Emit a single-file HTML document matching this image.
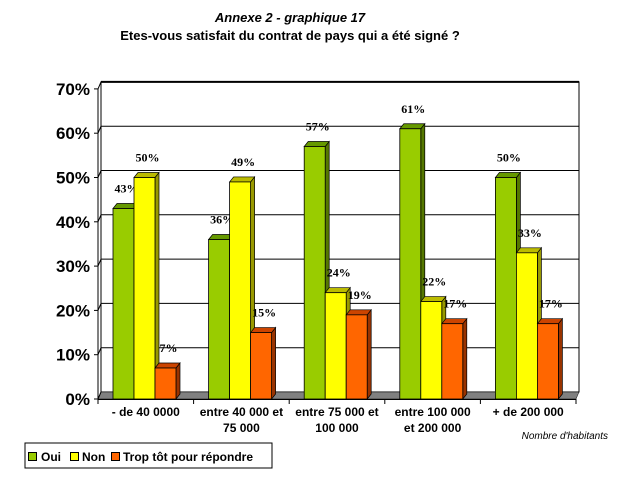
<!DOCTYPE html>
<html><head><meta charset="utf-8"><style>
body{margin:0;background:#fff;}
svg{display:block;font-family:"Liberation Sans",Arial,sans-serif;}
</style></head><body>
<svg id="chart" width="626" height="482" viewBox="0 0 626 482" xmlns="http://www.w3.org/2000/svg">
<text x="290" y="22" font-size="13" font-style="italic" font-weight="bold" text-anchor="middle">Annexe 2 - graphique 17</text>
<text x="290" y="40" font-size="13" font-weight="bold" text-anchor="middle">Etes-vous satisfait du contrat de pays qui a été signé ?</text>
<g id="grid"></g>
<g id="bars"></g>
<g id="axis"></g>
<text x="608" y="439" font-size="10" font-style="italic" text-anchor="end">Nombre d'habitants</text>
<g>
<rect x="25" y="443" width="247" height="25" fill="#fff" stroke="#000" stroke-width="1"/>
<rect x="28.5" y="452.5" width="8" height="8" fill="#99cc00" stroke="#000"/>
<text x="41" y="461" font-size="12" font-weight="bold">Oui</text>
<rect x="70.5" y="452.5" width="8" height="8" fill="#ffff00" stroke="#000"/>
<text x="82" y="461" font-size="12" font-weight="bold">Non</text>
<rect x="111.5" y="452.5" width="8" height="8" fill="#ff6600" stroke="#000"/>
<text x="123" y="461" font-size="12" font-weight="bold">Trop tôt pour répondre</text>
</g>
</svg>
<script>
const categories = [["- de 40 0000"],["entre 40 000 et","75 000"],["entre 75 000 et","100 000"],["entre 100 000","et 200 000"],["+ de 200 000"]];
const oui = [43,36,57,61,50];
const non = [50,49,24,22,33];
const tropTot = [7,15,19,17,17];
const yTicks = [0,10,20,30,40,50,60,70];
const NS="http://www.w3.org/2000/svg";
const svg=document.getElementById('chart');
const gGrid=document.getElementById('grid'),gBars=document.getElementById('bars'),gAxis=document.getElementById('axis');
const x0=98,x1=576,y0=399,k=4.43,dx=3,dy=-7;
const step=(x1-x0)/categories.length;
function yv(v){return y0-v*k;}
function mk(tag,attrs,parent){const e=document.createElementNS(NS,tag);for(const a in attrs)e.setAttribute(a,attrs[a]);parent.appendChild(e);return e;}
let wall=mk('rect',{x:x0+dx,y:yv(70)+dy,width:x1-x0,height:70*k,fill:'#fff',stroke:'#000','stroke-width':1},gGrid);


let floor=mk('polygon',{points:`${x0},${y0} ${x0+dx},${y0+dy} ${x1+dx},${y0+dy} ${x1},${y0}`,fill:'#808080',stroke:'#000','stroke-width':0.5},gGrid);


yTicks.forEach(t=>{
  const y=yv(t);
  mk('line',{x1:x0,y1:y,x2:x0+dx,y2:y+dy,stroke:'#000'},gGrid);
  if(t>0){const g=mk('line',{x1:x0+dx,y1:y+dy,x2:x1+dx,y2:y+dy,stroke:'#000','stroke-width':t==70?2:1},gGrid);
  
  }
  mk('line',{x1:x0-4,y1:y,x2:x0,y2:y,stroke:'#000'},gAxis);
  const tx=mk('text',{x:x0-8,y:y+6,'font-size':17,'font-weight':'bold','text-anchor':'end'},gAxis);
  tx.textContent=t+'%';
  
  
});
const al=mk('line',{x1:x0,y1:yv(70),x2:x0,y2:y0,stroke:'#000'},gAxis);


const ax=mk('line',{x1:x0,y1:y0+0.5,x2:x1,y2:y0+0.5,stroke:'#000'},gAxis);


for(let i=0;i<=categories.length;i++){const xx=x0+i*step;mk('line',{x1:xx,y1:y0,x2:xx,y2:y0+5,stroke:'#000'},gAxis);}
categories.forEach((c,i)=>{
  const cx=x0+(i+0.5)*step;
  c.forEach((line,j)=>{
    const t=mk('text',{x:cx,y:416+j*16,'font-size':12,'font-weight':'bold','text-anchor':'middle'},gAxis);
    t.textContent=line;
    
    
  });
});
const series=[{d:oui,f:'#99cc00',top:'#669900',side:'#557700',n:'oui'},{d:non,f:'#ffff00',top:'#bbbb00',side:'#999900',n:'non'},{d:tropTot,f:'#ff6600',top:'#cc4400',side:'#993300',n:'trop-tot'}];
const bw=21,bdx=4,bdy=-5;
series.forEach((s,si)=>{
  s.d.forEach((v,i)=>{
    const bx=x0+i*step+15+si*bw, by=yv(v);
    const g=mk('g',{},gBars);
    
    
    mk('polygon',{points:`${bx+bw},${by} ${bx+bw+bdx},${by+bdy} ${bx+bw+bdx},${y0+bdy} ${bx+bw},${y0}`,fill:s.side,stroke:'#000','stroke-width':0.7},g);
    mk('polygon',{points:`${bx},${by} ${bx+bdx},${by+bdy} ${bx+bw+bdx},${by+bdy} ${bx+bw},${by}`,fill:s.top,stroke:'#000','stroke-width':0.7},g);
    mk('rect',{x:bx,y:by,width:bw,height:y0-by,fill:s.f,stroke:'#000','stroke-width':0.8},g);
    const t=mk('text',{x:bx+bw/2+3,y:by-16,'font-size':12,'font-weight':'bold','font-family':'"Liberation Serif",serif','text-anchor':'middle'},gBars);
    t.textContent=v+'%';
    
    
  });
});
</script>
</body></html>
